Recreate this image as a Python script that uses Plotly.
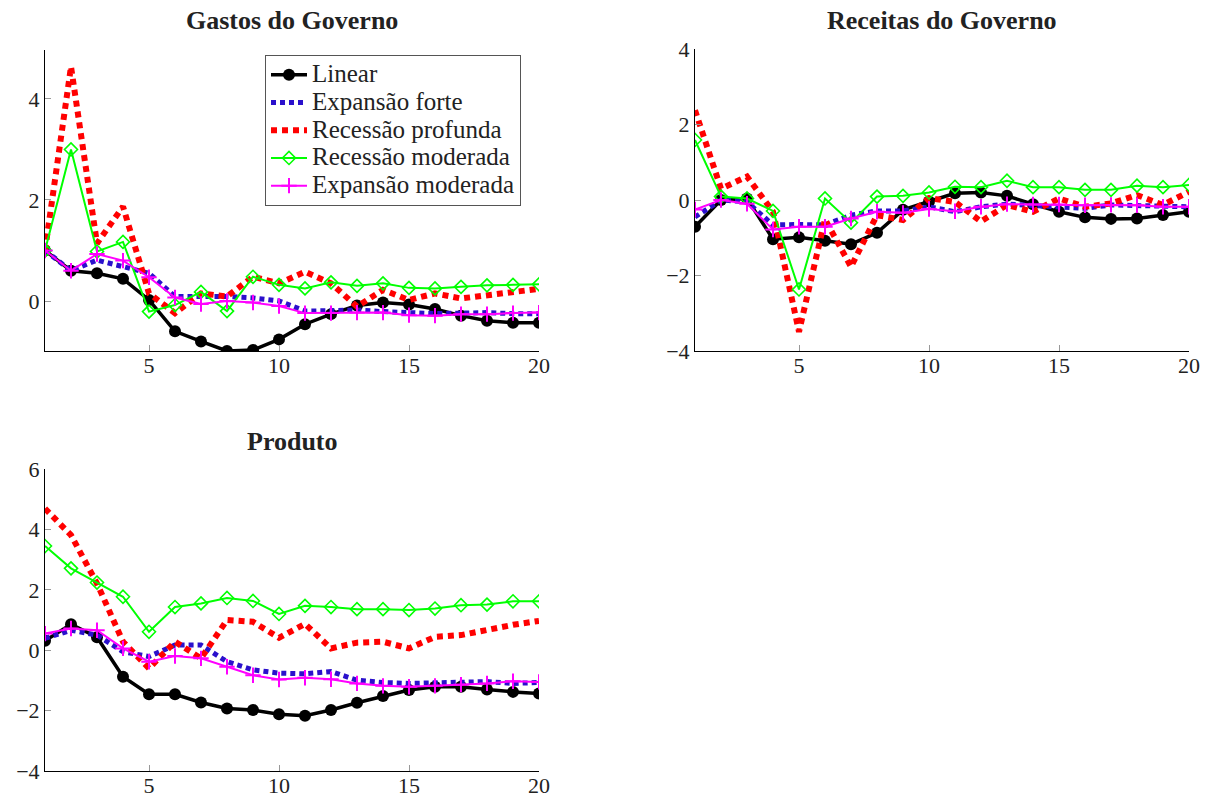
import plotly.graph_objects as go

periods = list(range(1, 21))

series_names = ["Linear", "Expansão forte", "Recessão profunda", "Recessão moderada", "Expansão moderada"]

# Gastos do Governo
gastos_linear = [1.0, 0.6, 0.55, 0.44, 0.02, -0.6, -0.8, -0.99, -0.97, -0.76, -0.46, -0.26, -0.09, -0.03, -0.07, -0.16, -0.29, -0.39, -0.43, -0.43]
gastos_exp_forte = [1.0, 0.6, 0.81, 0.67, 0.55, 0.09, 0.09, 0.09, 0.06, 0.0, -0.2, -0.2, -0.18, -0.21, -0.24, -0.25, -0.24, -0.23, -0.25, -0.25]
gastos_rec_prof = [1.0, 4.64, 1.14, 1.87, 0.15, -0.24, 0.15, 0.09, 0.48, 0.35, 0.58, 0.35, -0.11, 0.22, 0.02, 0.15, 0.05, 0.12, 0.18, 0.24]
gastos_rec_mod = [1.0, 3.0, 0.98, 1.17, -0.21, -0.08, 0.18, -0.2, 0.48, 0.32, 0.25, 0.37, 0.3, 0.35, 0.26, 0.25, 0.28, 0.31, 0.32, 0.33]
gastos_exp_mod = [1.0, 0.6, 0.93, 0.8, 0.47, 0.07, -0.06, 0.0, -0.03, -0.1, -0.24, -0.24, -0.23, -0.23, -0.28, -0.29, -0.26, -0.26, -0.24, -0.23]

# Receitas do Governo
receitas_linear = [-0.71, 0.0, 0.04, -1.04, -0.99, -1.08, -1.17, -0.87, -0.26, -0.04, 0.18, 0.2, 0.11, -0.11, -0.31, -0.46, -0.5, -0.49, -0.4, -0.31]
receitas_exp_forte = [-0.45, 0.0, -0.05, -0.66, -0.65, -0.66, -0.4, -0.29, -0.29, -0.18, -0.31, -0.18, -0.11, -0.14, -0.18, -0.22, -0.13, -0.14, -0.18, -0.18]
receitas_rec_prof = [2.38, 0.3, 0.62, -0.31, -3.49, -0.51, -1.77, -0.4, -0.53, 0.05, -0.05, -0.57, -0.13, -0.31, 0.04, -0.18, -0.09, 0.13, -0.13, 0.22]
receitas_rec_mod = [1.59, 0.09, 0.04, -0.29, -2.37, 0.04, -0.6, 0.09, 0.11, 0.2, 0.35, 0.34, 0.51, 0.34, 0.34, 0.27, 0.27, 0.38, 0.34, 0.4]
receitas_exp_mod = [-0.25, 0.0, -0.1, -0.78, -0.71, -0.71, -0.49, -0.31, -0.34, -0.24, -0.3, -0.18, -0.11, -0.12, -0.12, -0.14, -0.13, -0.14, -0.18, -0.18]

# Produto
produto_linear = [0.31, 0.86, 0.43, -0.88, -1.46, -1.46, -1.73, -1.93, -1.98, -2.12, -2.17, -1.98, -1.74, -1.52, -1.32, -1.21, -1.21, -1.3, -1.38, -1.43]
produto_exp_forte = [0.39, 0.66, 0.5, -0.05, -0.21, 0.17, 0.17, -0.38, -0.65, -0.76, -0.78, -0.71, -0.99, -1.07, -1.1, -1.07, -1.04, -1.04, -1.1, -1.07]
produto_rec_prof = [4.69, 3.81, 2.21, 0.28, -0.6, 0.28, -0.27, 1.0, 0.94, 0.41, 0.87, 0.06, 0.25, 0.28, 0.06, 0.44, 0.5, 0.69, 0.84, 0.97]
produto_rec_mod = [3.45, 2.71, 2.24, 1.77, 0.61, 1.43, 1.55, 1.73, 1.63, 1.2, 1.47, 1.43, 1.36, 1.36, 1.33, 1.38, 1.49, 1.51, 1.62, 1.62]
produto_exp_mod = [0.55, 0.72, 0.66, 0.06, -0.38, -0.19, -0.27, -0.55, -0.83, -0.97, -0.91, -0.96, -1.1, -1.18, -1.21, -1.18, -1.14, -1.1, -1.03, -1.05]

panel_titles = ["Gastos do Governo", "Receitas do Governo", "Produto"]
x_ticks = [5, 10, 15, 20]

FONT = "Liberation Serif"
W, H = 1211, 798


def dx(px):
    return px / W


def dy(py):
    return 1 - py / H


styles = [
    dict(line=dict(color="black", width=3.5), mode="lines+markers",
         marker=dict(symbol="circle", size=12, color="black")),
    dict(line=dict(color="#2a10cc", width=5, dash="5px,4px"), mode="lines"),
    dict(line=dict(color="#ff0000", width=6, dash="6px,5px"), mode="lines"),
    dict(line=dict(color="#00ff00", width=2), mode="lines+markers",
         marker=dict(symbol="diamond-open", size=10, color="#00ff00", line=dict(width=1.6, color="#00ff00"))),
    dict(line=dict(color="#ff00ff", width=2), mode="lines+markers",
         marker=dict(symbol="cross-thin-open", size=11, color="#ff00ff", line=dict(width=2, color="#ff00ff"))),
]

panels = [
    [gastos_linear, gastos_exp_forte, gastos_rec_prof, gastos_rec_mod, gastos_exp_mod],
    [receitas_linear, receitas_exp_forte, receitas_rec_prof, receitas_rec_mod, receitas_exp_mod],
    [produto_linear, produto_exp_forte, produto_rec_prof, produto_rec_mod, produto_exp_mod],
]

fig = go.Figure()
axis_ids = [("x", "y"), ("x2", "y2"), ("x3", "y3")]
for p, (data, (xa, ya)) in enumerate(zip(panels, axis_ids)):
    for i, (name, vals) in enumerate(zip(series_names, data)):
        st = styles[i]
        fig.add_trace(go.Scatter(x=periods, y=vals,
                                 name='<span style="font-size:25px">' + name + '</span>',
                                 xaxis=xa, yaxis=ya,
                                 showlegend=(p == 0), legendrank=i, **st))

common_x = dict(range=[1, 20], tickvals=x_ticks, ticks="inside", ticklen=6, tickcolor="#999",
                showline=True, linecolor="black", linewidth=1, showgrid=False, zeroline=False,
                automargin=False, ticklabelstandoff=-5,
                tickfont=dict(family=FONT, size=22, color="#222"))
common_y = dict(ticks="inside", ticklen=6, tickcolor="#999", dtick=2,
                showline=True, linecolor="black", linewidth=1, showgrid=False, zeroline=False,
                automargin=False,
                tickfont=dict(family=FONT, size=22, color="#222"))

fig.update_layout(
    width=W, height=H,
    margin=dict(l=0, r=0, t=0, b=0, pad=0, autoexpand=False),
    paper_bgcolor="white", plot_bgcolor="white",
    font=dict(family=FONT, color="#222"),
    xaxis=dict(domain=[dx(45), dx(539)], anchor="y", **common_x),
    yaxis=dict(domain=[dy(351), dy(50)], anchor="x", range=[-0.99, 4.97], **common_y),
    xaxis2=dict(domain=[dx(695), dx(1189)], anchor="y2", **common_x),
    yaxis2=dict(domain=[dy(351), dy(49)], anchor="x2", range=[-4, 4], **common_y),
    xaxis3=dict(domain=[dx(45), dx(539)], anchor="y3", **common_x),
    yaxis3=dict(domain=[dy(771), dy(469)], anchor="x3", range=[-4, 6], **common_y),
    legend=dict(x=dx(265), y=dy(55), xanchor="left", yanchor="top",
                bordercolor="#555", borderwidth=1, bgcolor="white",
                font=dict(family=FONT, size=19, color="#222"),
                tracegroupgap=0, itemwidth=36),
    showlegend=True,
)

title_pos = [(292, 21), (942, 21), (292, 441)]
for t, (px, py) in zip(panel_titles, title_pos):
    fig.add_annotation(text="<b>" + t + "</b>", x=dx(px), y=dy(py), xref="paper", yref="paper",
                       xanchor="center", yanchor="middle", showarrow=False,
                       font=dict(family=FONT, size=26, color="#222"))

fig.write_html("out.html", config={"displayModeBar": False},
               post_script="document.body.style.margin='0';document.body.style.overflow='hidden';")
